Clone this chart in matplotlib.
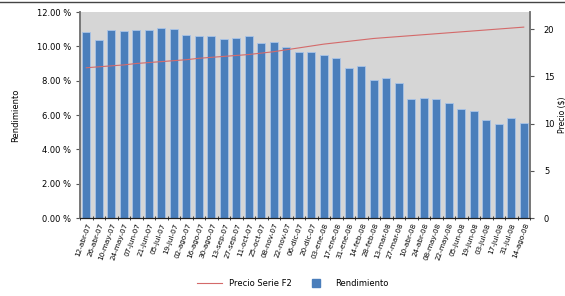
import numpy as np
import matplotlib.pyplot as plt
from matplotlib.ticker import FuncFormatter
from matplotlib.lines import Line2D

# fechas de emision (eje x)
fechas = ['12-abr-07', '26-abr-07', '10-may-07', '24-may-07', '07-jun-07', '21-jun-07',
          '05-jul-07', '19-jul-07', '02-ago-07', '16-ago-07', '30-ago-07', '13-sep-07',
          '27-sep-07', '11-oct-07', '25-oct-07', '08-nov-07', '22-nov-07', '06-dic-07',
          '20-dic-07', '03-ene-08', '17-ene-08', '31-ene-08', '14-feb-08', '28-feb-08',
          '13-mar-08', '27-mar-08', '10-abr-08', '24-abr-08', '08-may-08', '22-may-08',
          '05-jun-08', '19-jun-08', '03-jul-08', '17-jul-08', '31-jul-08', '14-ago-08']

rendimiento = [10.81, 10.37, 10.95, 10.89, 10.95, 10.95, 11.08, 10.99, 10.64, 10.62,
               10.62, 10.41, 10.46, 10.62, 10.17, 10.27, 9.94, 9.67, 9.67, 9.49,
               9.30, 8.75, 8.85, 8.06, 8.14, 7.88, 6.93, 6.97, 6.93, 6.68,
               6.33, 6.23, 5.71, 5.48, 5.81, 5.55]

precio_f2 = [15.9, 16.0, 16.1, 16.2, 16.35, 16.45, 16.55, 16.65, 16.75, 16.9,
             17.0, 17.1, 17.2, 17.3, 17.45, 17.6, 17.8, 18.0, 18.2, 18.4,
             18.55, 18.7, 18.85, 19.0, 19.1, 19.2, 19.3, 19.4, 19.5, 19.6,
             19.7, 19.8, 19.9, 20.0, 20.1, 20.2]

fig = plt.figure(figsize = (5.65, 2.96), dpi = 100)
ax = fig.add_axes([80 / 565, 78 / 296, 450 / 565, 206 / 296])
ax2 = ax.twinx()

x = np.arange(len(fechas))

ax.set_facecolor('#d6d6d6')
ax.bar(x, rendimiento, width = 0.65, color = '#4a7ebb', edgecolor = '#a9c4e8',
       linewidth = 0.6, zorder = 2)
ax.set_xlim(-0.5, len(fechas) - 0.5)
ax.set_ylim(0, 12)
ax.set_yticks(np.arange(0, 12.01, 2))
ax.yaxis.set_major_formatter(FuncFormatter(lambda v, p: f'{v:.2f} %'))
ax.set_ylabel('Rendimiento', fontsize = 6, labelpad = 12)

ax.set_xticks(x)
ax.set_xticklabels(fechas, rotation = 70, ha = 'right', rotation_mode = 'anchor', fontsize = 5.2)
ax.set_xticks(np.arange(-0.5, len(fechas)), minor = True)
ax.tick_params(axis = 'x', which = 'major', length = 0, pad = 3)
ax.tick_params(axis = 'x', which = 'minor', length = 3, direction = 'inout', color = '#222222')
ax.tick_params(axis = 'y', labelsize = 6, length = 3, color = '#555555')

ax2.plot(x, precio_f2, color = '#d46a6a', linewidth = 0.8, zorder = 3)
ax2.set_ylim(0, 21.8)
ax2.set_yticks([0, 5, 10, 15, 20])
ax2.tick_params(axis = 'y', labelsize = 6, length = 3, color = '#555555', pad = 7)
ax2.set_ylabel('Precio ($)', fontsize = 5.5)
ax2.yaxis.set_label_coords(1.06, 0.5)

for a in (ax, ax2):
    a.spines['top'].set_visible(False)
    a.spines['left'].set_color('#777777')
    a.spines['right'].set_color('#777777')
    a.spines['bottom'].set_color('#222222')
    a.spines['left'].set_linewidth(1.2)
    a.spines['right'].set_linewidth(1.2)

handles = [Line2D([0], [0], color = '#d46a6a', linewidth = 0.8),
           Line2D([0], [0], linestyle = 'none', marker = 's', markersize = 6,
                  color = '#4a7ebb')]
fig.legend(handles, ['Precio Serie F2', 'Rendimiento'], loc = 'center',
           bbox_to_anchor = (293 / 565, 13 / 296), ncol = 2, frameon = False,
           fontsize = 6, handlelength = 3, columnspacing = 1.5)

# borde superior de la tabla
fig.add_artist(Line2D([0, 1], [1 - 2 / 296, 1 - 2 / 296], color = '#444444', linewidth = 1))

plt.savefig('out.png', dpi = 100)
